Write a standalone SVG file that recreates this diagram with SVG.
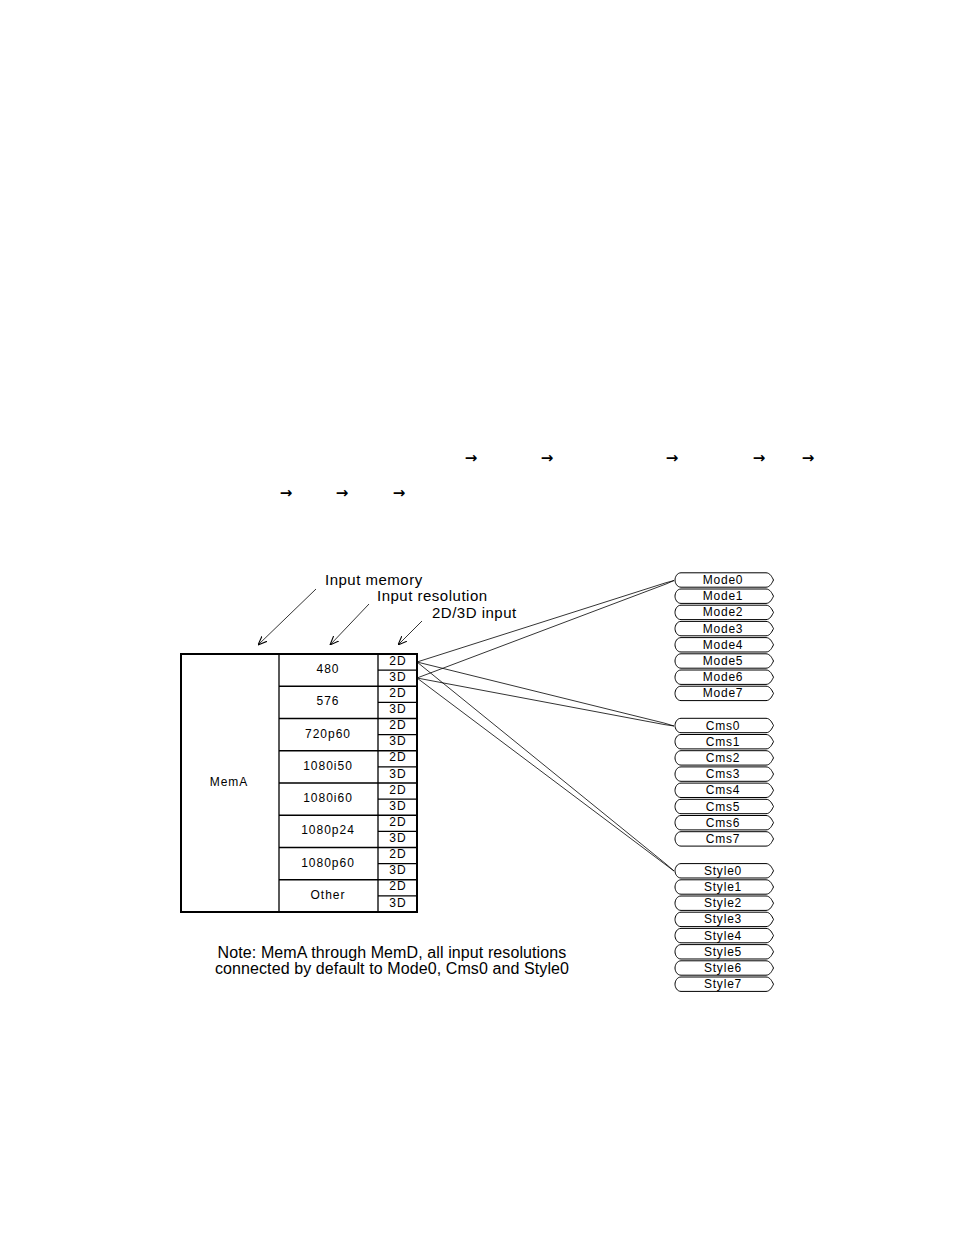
<svg xmlns="http://www.w3.org/2000/svg" xmlns:xlink="http://www.w3.org/1999/xlink" width="954" height="1235" viewBox="0 0 954 1235">
<style>
  text { font-family: "Liberation Sans", Arial, sans-serif; fill: #000; }
  .arr { font-family: "DejaVu Sans", sans-serif; font-size: 15px; font-weight: bold; text-anchor: middle; }
  .lbl { font-size: 15px; letter-spacing: 0.5px; }
  .note { font-size: 16px; letter-spacing: 0.1px; text-anchor: middle; }
  .cell { font-size: 12px; letter-spacing: 1px; text-anchor: middle; }
  .pt { font-size: 12px; letter-spacing: 0.8px; text-anchor: middle; }
  .pill { fill: #fff; stroke: #000; stroke-width: 1; }
  .outer { fill: #fff; stroke: #000; stroke-width: 2; }
  .grid { stroke: #000; stroke-width: 1.3; fill: none; }
  .conn { stroke: #000; stroke-width: 0.8; fill: none; }
  .lead { stroke: #000; stroke-width: 0.8; fill: none; marker-end: url(#open); }
</style>
<defs>
  <marker id="open" viewBox="0 0 10 10" refX="10" refY="5" markerWidth="9" markerHeight="9" markerUnits="userSpaceOnUse" orient="auto">
    <path d="M0,1 L10,5 L0,9" fill="none" stroke="#000" stroke-width="1.2"/>
  </marker>
  <path id="pillshape" d="M681,-7.2 H766 C770,-7.2 772,-3 773.5,0 C772,3 770,7.2 766,7.2 H681 C677,7.2 675,3 675,0 C675,-3 677,-7.2 681,-7.2 Z"/>
</defs>
<rect width="954" height="1235" fill="#fff"/>

<g id="arrows-text">
  <text class="arr" x="471" y="463">→</text>
  <text class="arr" x="547" y="463">→</text>
  <text class="arr" x="672" y="463">→</text>
  <text class="arr" x="759" y="463">→</text>
  <text class="arr" x="808" y="463">→</text>
  <text class="arr" x="286" y="498">→</text>
  <text class="arr" x="342" y="498">→</text>
  <text class="arr" x="399" y="498">→</text>
</g>

<g id="labels">
  <text class="lbl" x="325" y="585">Input memory</text>
  <text class="lbl" x="377" y="601">Input resolution</text>
  <text class="lbl" x="432" y="618">2D/3D input</text>
  <path class="lead" d="M316,589 L258,645"/>
  <path class="lead" d="M369,604 L330,645"/>
  <path class="lead" d="M422,621 L398,645"/>
</g>

<g id="table">
  <rect class="outer" x="181" y="654" width="236" height="258"/>
  <path class="grid" d="M279,654 V912 M378,654 V912"/>
  <path class="grid" d="M279,686.25 H417 M279,718.5 H417 M279,750.75 H417 M279,783 H417 M279,815.25 H417 M279,847.5 H417 M279,879.75 H417"/>
  <path class="grid" d="M378,670.1 H417 M378,702.4 H417 M378,734.6 H417 M378,766.9 H417 M378,799.1 H417 M378,831.4 H417 M378,863.6 H417 M378,895.9 H417"/>
  <text class="cell" x="229" y="786">MemA</text>
  <text class="cell" x="328" y="673">480</text>
  <text class="cell" x="328" y="705.2">576</text>
  <text class="cell" x="328" y="737.5">720p60</text>
  <text class="cell" x="328" y="769.7">1080i50</text>
  <text class="cell" x="328" y="802">1080i60</text>
  <text class="cell" x="328" y="834.2">1080p24</text>
  <text class="cell" x="328" y="866.5">1080p60</text>
  <text class="cell" x="328" y="898.7">Other</text>
  <g id="dims">
    <text class="cell" x="398" y="664.5">2D</text><text class="cell" x="398" y="680.7">3D</text>
    <text class="cell" x="398" y="696.7">2D</text><text class="cell" x="398" y="713">3D</text>
    <text class="cell" x="398" y="729">2D</text><text class="cell" x="398" y="745.2">3D</text>
    <text class="cell" x="398" y="761.2">2D</text><text class="cell" x="398" y="777.5">3D</text>
    <text class="cell" x="398" y="793.5">2D</text><text class="cell" x="398" y="809.7">3D</text>
    <text class="cell" x="398" y="825.7">2D</text><text class="cell" x="398" y="842">3D</text>
    <text class="cell" x="398" y="858">2D</text><text class="cell" x="398" y="874.2">3D</text>
    <text class="cell" x="398" y="890.2">2D</text><text class="cell" x="398" y="906.5">3D</text>
  </g>
</g>

<g id="connectors">
  <path class="conn" d="M417,662 L665,583 L674,580.5"/>
  <path class="conn" d="M417,678 L666,584 L674,580.5"/>
  <path class="conn" d="M417,662 L664,723 L674,726"/>
  <path class="conn" d="M417,678 L664,724.5 L674,726"/>
  <path class="conn" d="M417,662 L666,864 L674,871"/>
  <path class="conn" d="M417,678 L666,865 L674,871"/>
</g>

<g id="mode">
  <g id="mode0"><use href="#pillshape" class="pill" y="580"/><text class="pt" x="723" y="584">Mode0</text></g>
  <g id="mode1"><use href="#pillshape" class="pill" y="596.2"/><text class="pt" x="723" y="600.2">Mode1</text></g>
  <g id="mode2"><use href="#pillshape" class="pill" y="612.4"/><text class="pt" x="723" y="616.4">Mode2</text></g>
  <g id="mode3"><use href="#pillshape" class="pill" y="628.6"/><text class="pt" x="723" y="632.6">Mode3</text></g>
  <g id="mode4"><use href="#pillshape" class="pill" y="644.8"/><text class="pt" x="723" y="648.8">Mode4</text></g>
  <g id="mode5"><use href="#pillshape" class="pill" y="661"/><text class="pt" x="723" y="665">Mode5</text></g>
  <g id="mode6"><use href="#pillshape" class="pill" y="677.2"/><text class="pt" x="723" y="681.2">Mode6</text></g>
  <g id="mode7"><use href="#pillshape" class="pill" y="693.4"/><text class="pt" x="723" y="697.4">Mode7</text></g>
</g>

<g id="cms">
  <g id="cms0"><use href="#pillshape" class="pill" y="725.5"/><text class="pt" x="723" y="729.5">Cms0</text></g>
  <g id="cms1"><use href="#pillshape" class="pill" y="741.7"/><text class="pt" x="723" y="745.7">Cms1</text></g>
  <g id="cms2"><use href="#pillshape" class="pill" y="757.9"/><text class="pt" x="723" y="761.9">Cms2</text></g>
  <g id="cms3"><use href="#pillshape" class="pill" y="774.1"/><text class="pt" x="723" y="778.1">Cms3</text></g>
  <g id="cms4"><use href="#pillshape" class="pill" y="790.3"/><text class="pt" x="723" y="794.3">Cms4</text></g>
  <g id="cms5"><use href="#pillshape" class="pill" y="806.5"/><text class="pt" x="723" y="810.5">Cms5</text></g>
  <g id="cms6"><use href="#pillshape" class="pill" y="822.7"/><text class="pt" x="723" y="826.7">Cms6</text></g>
  <g id="cms7"><use href="#pillshape" class="pill" y="838.9"/><text class="pt" x="723" y="842.9">Cms7</text></g>
</g>

<g id="style">
  <g id="style0"><use href="#pillshape" class="pill" y="870.8"/><text class="pt" x="723" y="874.8">Style0</text></g>
  <g id="style1"><use href="#pillshape" class="pill" y="887"/><text class="pt" x="723" y="891">Style1</text></g>
  <g id="style2"><use href="#pillshape" class="pill" y="903.2"/><text class="pt" x="723" y="907.2">Style2</text></g>
  <g id="style3"><use href="#pillshape" class="pill" y="919.4"/><text class="pt" x="723" y="923.4">Style3</text></g>
  <g id="style4"><use href="#pillshape" class="pill" y="935.6"/><text class="pt" x="723" y="939.6">Style4</text></g>
  <g id="style5"><use href="#pillshape" class="pill" y="951.8"/><text class="pt" x="723" y="955.8">Style5</text></g>
  <g id="style6"><use href="#pillshape" class="pill" y="968"/><text class="pt" x="723" y="972">Style6</text></g>
  <g id="style7"><use href="#pillshape" class="pill" y="984.2"/><text class="pt" x="723" y="988.2">Style7</text></g>
</g>

<g id="note">
  <text class="note" x="392" y="958">Note: MemA through MemD, all input resolutions</text>
  <text class="note" x="392" y="974">connected by default to Mode0, Cms0 and Style0</text>
</g>
</svg>
